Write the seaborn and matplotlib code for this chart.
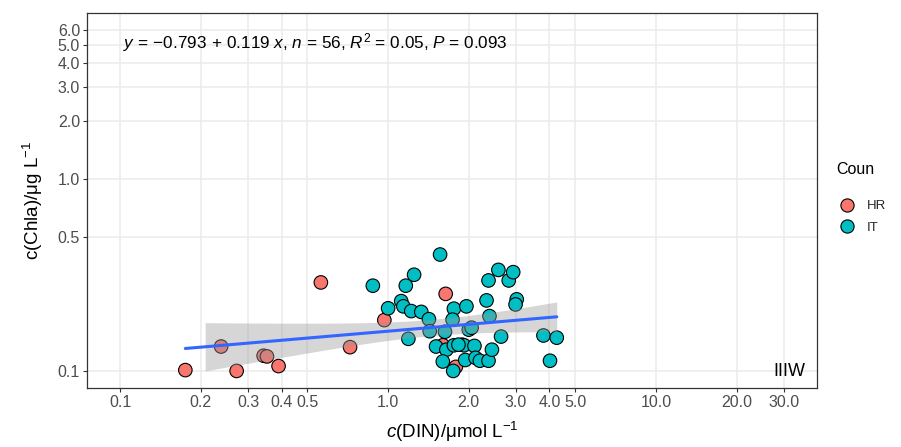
import numpy as np
import pandas as pd
import matplotlib
matplotlib.use("Agg")
import matplotlib.pyplot as plt
from matplotlib.lines import Line2D
from matplotlib.ticker import FixedLocator, FixedFormatter, NullLocator
import seaborn as sns

# DIN (umol/L) and Chla (ug/L) per station, by country
hr_din = [0.175, 0.238, 0.272, 0.343, 0.353, 0.39, 0.561, 0.721, 0.968, 1.64, 1.60, 1.79]
hr_chla = [0.101, 0.134, 0.100, 0.120, 0.119, 0.106, 0.289, 0.133, 0.184, 0.252, 0.136, 0.105]

it_din = [0.877, 1.00, 1.563, 1.25, 1.164, 1.119, 1.14, 1.22, 1.33, 1.42, 1.43, 1.19,
          1.76, 1.74, 1.63, 1.96, 2.00, 2.05, 1.51, 1.65, 1.76, 1.89, 1.92, 2.10,
          1.60, 1.75, 1.94, 2.12, 2.20, 2.37, 2.44, 2.39, 2.64, 2.33, 2.37, 2.58,
          2.82, 2.93, 3.02, 2.99, 3.80, 4.26, 4.02, 1.83]
it_chla = [0.278, 0.212, 0.404, 0.317, 0.278, 0.231, 0.217, 0.205, 0.203, 0.186, 0.161, 0.147,
           0.211, 0.185, 0.160, 0.217, 0.164, 0.168, 0.134, 0.129, 0.136, 0.137, 0.136, 0.135,
           0.112, 0.100, 0.114, 0.117, 0.113, 0.113, 0.129, 0.193, 0.151, 0.233, 0.296, 0.336,
           0.296, 0.327, 0.236, 0.222, 0.153, 0.149, 0.113, 0.137]

# log10-log10 fit reported on the panel
intercept = -0.793
slope = 0.119
n_obs = 56
r_squared = 0.05
p_value = 0.093
t_975 = 2.005  # two-sided 95 % t quantile, 54 df

x_breaks = [0.1, 0.2, 0.3, 0.4, 0.5, 1.0, 2.0, 3.0, 4.0, 5.0, 10.0, 20.0, 30.0]
y_breaks = [0.1, 0.5, 1.0, 2.0, 3.0, 4.0, 5.0, 6.0]
x_limits = (0.1, 30.0)
y_limits = (0.1, 6.0)

df = pd.DataFrame({
    "DIN": hr_din + it_din,
    "Chla": hr_chla + it_chla,
    "Coun": ["HR"] * len(hr_din) + ["IT"] * len(it_din),
})
palette = {"HR": "#F8766D", "IT": "#00BFC4"}

sns.set_theme(style="white")
plt.rcParams["font.family"] = ["Liberation Sans", "DejaVu Sans"]
plt.rcParams["mathtext.fontset"] = "custom"
plt.rcParams["mathtext.rm"] = "Liberation Sans"
plt.rcParams["mathtext.it"] = "Liberation Sans:italic"
plt.rcParams["axes.unicode_minus"] = True

fig, ax = plt.subplots(figsize=(9.01, 4.47), dpi=100)
fig.subplots_adjust(left=0.0966, right=0.9068, bottom=0.132, top=0.972)
ax.set_xscale("log")
ax.set_yscale("log")


def expanded(lims, frac=0.05):
    lo, hi = np.log10(lims[0]), np.log10(lims[1])
    pad = (hi - lo) * frac
    return 10 ** (lo - pad), 10 ** (hi + pad)


ax.set_xlim(*expanded(x_limits))
ax.set_ylim(*expanded(y_limits))

ax.grid(True, which="major", color="#EBEBEB", linewidth=1.1)
ax.set_axisbelow(True)

sns.scatterplot(data=df, x="DIN", y="Chla", hue="Coun", palette=palette,
                s=95, edgecolor="black", linewidth=0.8, legend=False,
                ax=ax, zorder=2)

# confidence band and fitted line in log-log space
lx = np.log10(df["DIN"].to_numpy())
ly = np.log10(df["Chla"].to_numpy())
resid = ly - (intercept + slope * lx)
s_res = np.sqrt(np.sum(resid ** 2) / (len(lx) - 2))
sxx = np.sum((lx - lx.mean()) ** 2)
gx = np.linspace(lx.min(), lx.max(), 600)
fit = intercept + slope * gx
half = t_975 * s_res * np.sqrt(1 / len(lx) + (gx - lx.mean()) ** 2 / sxx)
lo, hi = fit - half, fit + half
inside = lo >= np.log10(y_limits[0])
ax.fill_between(10 ** gx, 10 ** lo, 10 ** hi, where=inside, color="#999999",
                alpha=0.4, linewidth=0, zorder=3)
ax.plot(10 ** gx, 10 ** fit, color="#3366FF", linewidth=2.2, zorder=4)

ax.xaxis.set_major_locator(FixedLocator(x_breaks))
ax.xaxis.set_major_formatter(FixedFormatter([f"{v:.1f}" for v in x_breaks]))
ax.xaxis.set_minor_locator(NullLocator())
ax.yaxis.set_major_locator(FixedLocator(y_breaks))
ax.yaxis.set_major_formatter(FixedFormatter([f"{v:.1f}" for v in y_breaks]))
ax.yaxis.set_minor_locator(NullLocator())

ax.tick_params(axis="both", which="major", length=3, width=0.8, color="#333333",
               labelcolor="#4D4D4D", labelsize=11.5, pad=2,
               bottom=True, left=True)
for sp in ax.spines.values():
    sp.set_color("#333333")
    sp.set_linewidth(0.9)

ax.set_xlabel(r"$c$(DIN)/μmol L$^{-1}$", fontsize=13.5, color="black")
ax.set_ylabel(r"c(Chla)/μg L$^{-1}$", fontsize=13.5, color="black")
ax.xaxis.set_label_coords(0.5, -0.117)
ax.xaxis.label.set_va("center")
ax.yaxis.set_label_coords(-0.074, 0.5)
ax.yaxis.label.set_va("center")

eq = (rf"$y\,=\,{{{intercept:.3f}}}\,+\,{slope:.3f}\ x$, $n$ = {n_obs}, "
      rf"$R^2$ = {r_squared:.2f}, $P$ = {p_value:.3f}")
ax.text(0.049, 0.919, eq, transform=ax.transAxes, fontsize=12.3, color="black",
        ha="left", va="center")
ax.text(0.9836, 0.043, "IIIW", transform=ax.transAxes, fontsize=13,
        color="black", ha="right", va="center")

# legend: title placed on its own, keys below it
fig.text(836 / 901, 1 - 170 / 447, "Coun", fontsize=11.5, color="black",
         ha="left", va="center")
handles = [Line2D([], [], marker="o", linestyle="", markersize=9.5,
                  markerfacecolor=palette[k], markeredgecolor="black",
                  markeredgewidth=0.8) for k in ["HR", "IT"]]
leg = fig.legend(handles, ["HR", "IT"], loc="upper left",
                 bbox_to_anchor=(834 / 901, 1 - 200 / 447), frameon=False,
                 fontsize=9.5, handletextpad=0.5,
                 labelspacing=0.7, borderaxespad=0, borderpad=0)

fig.savefig("out.png", dpi=100)
